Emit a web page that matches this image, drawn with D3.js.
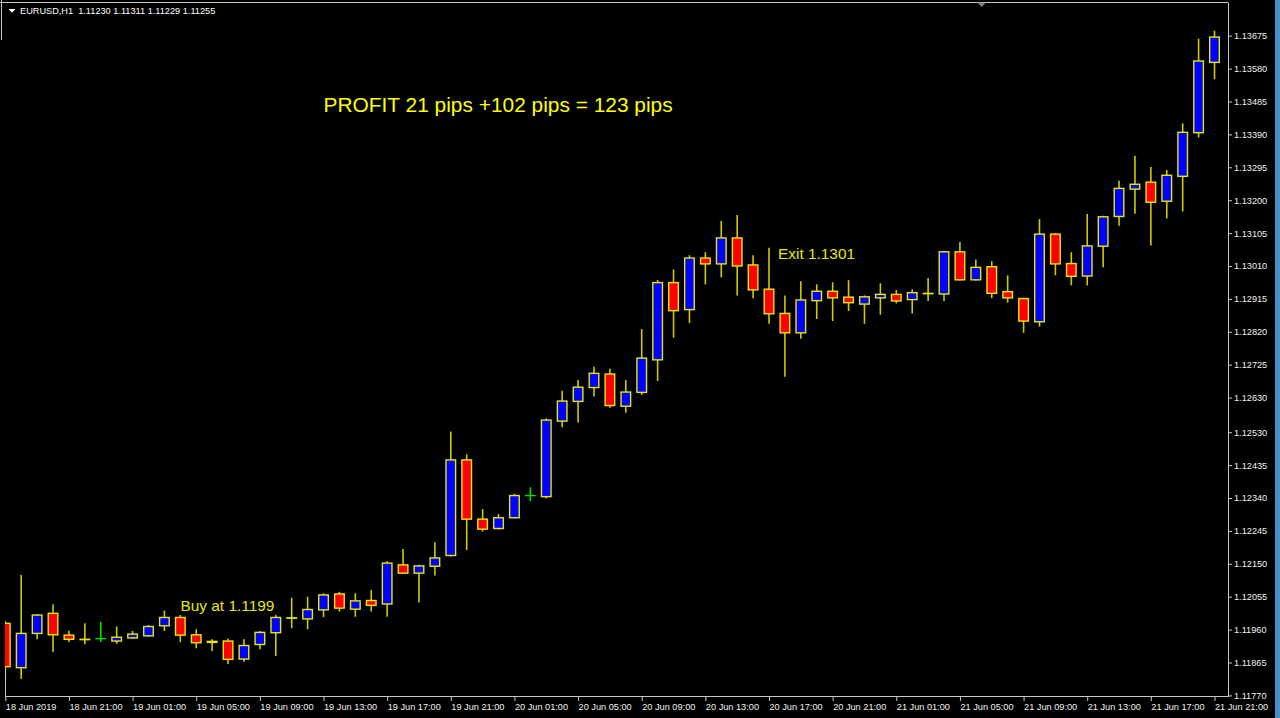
<!DOCTYPE html>
<html>
<head>
<meta charset="utf-8">
<script src="https://cdnjs.cloudflare.com/ajax/libs/d3/7.8.5/d3.min.js"></script>
<style>
  html, body { margin: 0; padding: 0; background: #000; overflow: hidden; }
  svg { display: block; }
  text { font-family: "Liberation Sans", Arial, sans-serif; }
</style>
</head>
<body>
<svg id="chart" width="1280" height="718"></svg>
<script>
//#region DATA /////////////////////////////////////////////////////////////////

// EURUSD H1, one value per bar, 18 Jun 17:00 .. 21 Jun 21:00
const opens = [
  1.11978, 1.11850, 1.11949, 1.12007, 1.11944, 1.11932, 1.11934, 1.11927,
  1.11936, 1.11942, 1.11971, 1.11995, 1.11945, 1.11926, 1.11927, 1.11875,
  1.11917, 1.11951, 1.11993, 1.11991, 1.12017, 1.12063, 1.12019, 1.12044,
  1.12034, 1.12147, 1.12123, 1.12143, 1.12174, 1.12450, 1.12279, 1.12252,
  1.12283, 1.12347, 1.12344, 1.12562, 1.12619, 1.12659, 1.12698, 1.12605,
  1.12645, 1.12739, 1.12962, 1.12884, 1.13033, 1.13016, 1.13091, 1.13013,
  1.12943, 1.12873, 1.12817, 1.12910, 1.12937, 1.12920, 1.12900, 1.12918,
  1.12928, 1.12913, 1.12930, 1.12929, 1.13051, 1.12970, 1.13008, 1.12936,
  1.12916, 1.12849, 1.13102, 1.13017, 1.12981, 1.13067, 1.13153, 1.13232,
  1.13252, 1.13197, 1.13269, 1.13395, 1.13598
];
const highs = [
  1.11985, 1.12118, 1.12005, 1.12033, 1.11957, 1.11978, 1.11983, 1.11969,
  1.11956, 1.11973, 1.12015, 1.12002, 1.11961, 1.11932, 1.11934, 1.11932,
  1.11956, 1.12002, 1.12052, 1.12055, 1.12065, 1.12069, 1.12065, 1.12075,
  1.12158, 1.12193, 1.12147, 1.12212, 1.12532, 1.12466, 1.12308, 1.12294,
  1.12352, 1.12371, 1.12570, 1.12650, 1.12681, 1.12719, 1.12713, 1.12681,
  1.12828, 1.12970, 1.13000, 1.13041, 1.13050, 1.13140, 1.13157, 1.13041,
  1.13063, 1.12925, 1.12966, 1.12957, 1.12963, 1.12969, 1.12925, 1.12960,
  1.12940, 1.12943, 1.12975, 1.13054, 1.13079, 1.13029, 1.13024, 1.12983,
  1.12918, 1.13146, 1.13105, 1.13050, 1.13160, 1.13155, 1.13256, 1.13328,
  1.13296, 1.13287, 1.13422, 1.13666, 1.13689
];
const lows = [
  1.11813, 1.11818, 1.11932, 1.11895, 1.11924, 1.11918, 1.11924, 1.11919,
  1.11933, 1.11940, 1.11956, 1.11924, 1.11906, 1.11898, 1.11861, 1.11867,
  1.11903, 1.11884, 1.11964, 1.11961, 1.11996, 1.12012, 1.11997, 1.12012,
  1.11997, 1.12121, 1.12038, 1.12116, 1.12171, 1.12190, 1.12243, 1.12249,
  1.12282, 1.12331, 1.12339, 1.12544, 1.12558, 1.12633, 1.12601, 1.12586,
  1.12638, 1.12678, 1.12803, 1.12845, 1.12957, 1.12977, 1.12925, 1.12917,
  1.12843, 1.12690, 1.12800, 1.12857, 1.12851, 1.12880, 1.12843, 1.12869,
  1.12902, 1.12873, 1.12909, 1.12909, 1.12968, 1.12968, 1.12917, 1.12904,
  1.12817, 1.12835, 1.12983, 1.12954, 1.12954, 1.13006, 1.13126, 1.13161,
  1.13069, 1.13147, 1.13167, 1.13381, 1.13549
];
const closes = [
  1.11853, 1.11949, 1.12002, 1.11945, 1.11932, 1.11931, 1.11934, 1.11938,
  1.11947, 1.11969, 1.11995, 1.11944, 1.11922, 1.11923, 1.11874, 1.11914,
  1.11952, 1.11995, 1.11994, 1.12018, 1.12060, 1.12022, 1.12043, 1.12030,
  1.12152, 1.12123, 1.12144, 1.12167, 1.12450, 1.12279, 1.12250, 1.12283,
  1.12347, 1.12347, 1.12565, 1.12620, 1.12660, 1.12700, 1.12607, 1.12646,
  1.12744, 1.12962, 1.12881, 1.13033, 1.13016, 1.13091, 1.13010, 1.12941,
  1.12872, 1.12817, 1.12912, 1.12937, 1.12918, 1.12904, 1.12921, 1.12928,
  1.12909, 1.12933, 1.12931, 1.13051, 1.12970, 1.13006, 1.12931, 1.12918,
  1.12851, 1.13102, 1.13016, 1.12980, 1.13068, 1.13152, 1.13234, 1.13246,
  1.13194, 1.13272, 1.13396, 1.13602, 1.13671
];

// one label every 4 bars
const timeLabels = [
  "18 Jun 2019", "18 Jun 21:00", "19 Jun 01:00", "19 Jun 05:00",
  "19 Jun 09:00", "19 Jun 13:00", "19 Jun 17:00", "19 Jun 21:00",
  "20 Jun 01:00", "20 Jun 05:00", "20 Jun 09:00", "20 Jun 13:00",
  "20 Jun 17:00", "20 Jun 21:00", "21 Jun 01:00", "21 Jun 05:00",
  "21 Jun 09:00", "21 Jun 13:00", "21 Jun 17:00", "21 Jun 21:00"
];
const priceTicks = [
  1.13675, 1.13580, 1.13485, 1.13390, 1.13295, 1.13200, 1.13105, 1.13010,
  1.12915, 1.12820, 1.12725, 1.12630, 1.12530, 1.12435, 1.12340, 1.12245,
  1.12150, 1.12055, 1.11960, 1.11865, 1.11770
];

const headerText = "EURUSD,H1  1.11230 1.11311 1.11229 1.11255";
const profitText = "PROFIT 21 pips +102 pips = 123 pips";
const buyText = "Buy at 1.1199";
const exitText = "Exit 1.1301";

//#endregion

//#region LAYOUT ///////////////////////////////////////////////////////////////

const WIDTH = 1280, HEIGHT = 718;
const PLOT_LEFT = 5, PLOT_RIGHT = 1228, PLOT_TOP = 2.5, PLOT_BOTTOM = 697;
const BODY_WIDTH = 9.6;
const FRAME_COLOR = "#c8c8c8", LABEL_COLOR = "#f0f0f0";
const WICK_COLOR = "#cccc00", OUTLINE_COLOR = "#e8e800";
const BULL_COLOR = "#0000ff", BEAR_COLOR = "#ff0000", DOJI_COLOR = "#00e000";

//#endregion

const svg = d3.select("#chart");
svg.append("rect").attr("width", WIDTH).attr("height", HEIGHT).attr("fill", "#000");

const bars = opens.map((o, i) => ({ i, o, h: highs[i], l: lows[i], c: closes[i] }));

const x = d3.scaleLinear().domain([0, bars.length - 1]).range([5.3, 1214.5]);
const y = d3.scaleLinear().domain([1.11770, 1.13675]).range([695.4, 35.7]);

drawCandles();
drawAxes();
drawFrame();
drawTexts();

function drawCandles()
{
  svg.append("clipPath").attr("id", "plot-clip")
     .append("rect")
     .attr("x", PLOT_LEFT).attr("y", PLOT_TOP)
     .attr("width", PLOT_RIGHT - PLOT_LEFT).attr("height", PLOT_BOTTOM - PLOT_TOP);

  let g = svg.append("g").attr("clip-path", "url(#plot-clip)");

  let candle = g.selectAll("g.candle").data(bars).enter()
                .append("g").attr("class", "candle");

  // wick (high..low)
  candle.append("line")
        .attr("x1", d => x(d.i)).attr("x2", d => x(d.i))
        .attr("y1", d => y(d.h)).attr("y2", d => y(d.l))
        .attr("stroke", d => d.o === d.c ? DOJI_COLOR : WICK_COLOR)
        .attr("stroke-width", 1.6);

  // body for non-doji bars
  candle.filter(d => d.o !== d.c).append("rect")
        .attr("x", d => x(d.i) - BODY_WIDTH / 2)
        .attr("y", d => y(Math.max(d.o, d.c)))
        .attr("width", BODY_WIDTH)
        .attr("height", d => Math.abs(y(d.o) - y(d.c)))
        .attr("fill", d => d.c > d.o ? BULL_COLOR : BEAR_COLOR)
        .attr("stroke", OUTLINE_COLOR)
        .attr("stroke-width", 1.4);

  // doji: open == close, a flat green tick
  candle.filter(d => d.o === d.c).append("line")
        .attr("x1", d => x(d.i) - BODY_WIDTH / 2 - 0.7)
        .attr("x2", d => x(d.i) + BODY_WIDTH / 2 + 0.7)
        .attr("y1", d => y(d.o)).attr("y2", d => y(d.o))
        .attr("stroke", DOJI_COLOR).attr("stroke-width", 1.4);
}

function drawAxes()
{
  let gy = svg.append("g")
              .attr("transform", "translate(" + PLOT_RIGHT + ",0)")
              .call(d3.axisRight(y).tickValues(priceTicks).tickSize(4)
                      .tickPadding(2).tickFormat(d3.format(".5f")));
  gy.select(".domain").remove();
  gy.selectAll("line").attr("stroke", FRAME_COLOR);
  gy.selectAll("text").attr("fill", LABEL_COLOR)
    .attr("font-size", 9.2).attr("font-family", null);

  let tickIdx = timeLabels.map((_d, i) => i * 4);
  let gx = svg.append("g")
              .attr("transform", "translate(0," + PLOT_BOTTOM + ")")
              .call(d3.axisBottom(x).tickValues(tickIdx).tickSize(4)
                      .tickPadding(2).tickFormat((_d, i) => timeLabels[i]));
  gx.select(".domain").remove();
  gx.selectAll("line").attr("stroke", FRAME_COLOR);
  gx.selectAll("text").attr("fill", LABEL_COLOR)
    .attr("font-size", 9.2).attr("font-family", null)
    .attr("text-anchor", "start");
}

function drawFrame()
{
  let f = svg.append("g").attr("stroke", FRAME_COLOR).attr("fill", "none");
  f.append("line").attr("x1", 0).attr("x2", PLOT_RIGHT)
   .attr("y1", PLOT_TOP).attr("y2", PLOT_TOP);
  f.append("line").attr("x1", PLOT_RIGHT + 0.5).attr("x2", PLOT_RIGHT + 0.5)
   .attr("y1", PLOT_TOP).attr("y2", PLOT_BOTTOM);
  f.append("line").attr("x1", PLOT_LEFT).attr("x2", PLOT_RIGHT + 0.5)
   .attr("y1", PLOT_BOTTOM - 0.5).attr("y2", PLOT_BOTTOM - 0.5);
  f.append("line").attr("x1", 1.5).attr("x2", 1.5)
   .attr("y1", 0).attr("y2", 40);
  f.append("line").attr("x1", PLOT_LEFT + 0.5).attr("x2", PLOT_LEFT + 0.5)
   .attr("y1", 670).attr("y2", PLOT_BOTTOM);

  // small marker on the top edge
  svg.append("path").attr("d", "M977.5,2.5 L986,2.5 L981.7,7 Z").attr("fill", "#808080");

  // window edge on the right
  svg.append("rect").attr("x", 1275).attr("y", 0).attr("width", 5)
     .attr("height", HEIGHT).attr("fill", "#4a8dc8");
}

function drawTexts()
{
  svg.append("path").attr("d", "M8.5,9 L15.5,9 L12,12.8 Z").attr("fill", "#ffffff");
  svg.append("text").text(headerText).attr("x", 20).attr("y", 13.5)
     .attr("font-size", 9.2).attr("fill", "#ffffff").style("white-space", "pre")
     .attr("xml:space", "preserve");

  svg.append("text").text(profitText).attr("x", 323.5).attr("y", 111.5)
     .attr("font-size", 20.9).attr("fill", "#ffff00");
  svg.append("text").text(exitText).attr("x", 778).attr("y", 259.3)
     .attr("font-size", 15.4).attr("fill", "#e8e800");
  svg.append("text").text(buyText).attr("x", 180.5).attr("y", 611)
     .attr("font-size", 15.4).attr("fill", "#e8e800");
}
</script>
</body>
</html>
